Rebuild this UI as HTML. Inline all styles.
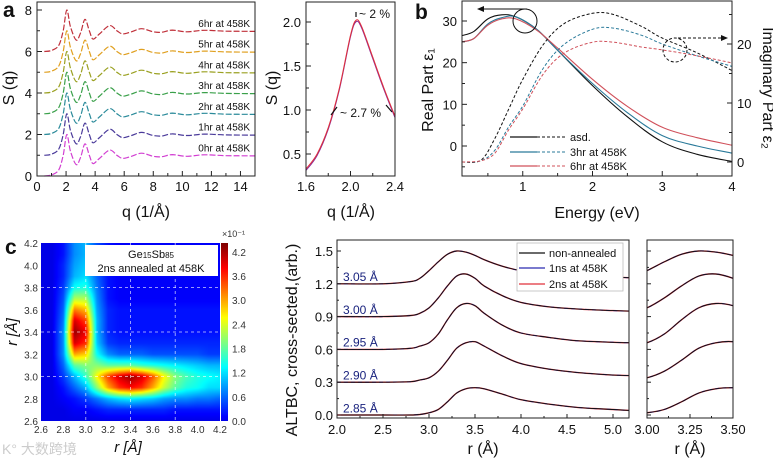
<!DOCTYPE html>
<html><head><meta charset="utf-8">
<style>
html,body{margin:0;padding:0;background:#fff;}
#wrap{position:relative;width:773px;height:459px;overflow:hidden;font-family:"Liberation Sans","Noto Sans CJK SC",sans-serif;}
svg{position:absolute;left:0;top:0;}
canvas{position:absolute;}
</style></head>
<body>
<div id="wrap">
<canvas id="heat" width="179" height="178" style="left:41px;top:243px;"></canvas>
<canvas id="cbar" width="7" height="178" style="left:221px;top:243px;"></canvas>
<svg id="svg" width="773" height="459" xmlns="http://www.w3.org/2000/svg"></svg>
</div>
<script>
// ---------- Panel a data ----------
const sqQ = [0.5,1.0,1.5,1.8,2.05,2.3,2.7,3.0,3.3,3.6,3.85,4.3,5.0,5.5,5.9,6.5,7.2,8.0,8.6,9.3,10.3,11.5,13,15];
const sqShape = [0,0.05,0.3,1.0,2.0,1.2,0.55,0.9,1.55,1.0,0.6,0.85,1.25,1.0,0.85,0.95,1.1,0.95,0.93,1.03,0.95,1.02,0.98,0.97];
const sqOffsets = [0,1,2,3,4,5,6];
const sqLabels = ["0hr at 458K","1hr at 458K","2hr at 458K","3hr at 458K","4hr at 458K","5hr at 458K","6hr at 458K"];
const zoomQ = [1.6,1.7,1.8,1.9,2.0,2.05,2.1,2.2,2.3,2.4];
const zoomS = [0.33,0.5,0.8,1.25,1.85,2.02,1.95,1.6,1.25,0.93];
// ---------- Panel b data ----------
const eE1 = [0.13,0.3,0.5,0.7,0.9,1.2,1.5,2.0,2.5,3.0,3.5,4.0];
const e1Asd = [26.5,27.5,30.5,31.5,31,28,23,14.5,7,1,-2,-3.7];
const e1H3 = [25,25.8,29.3,30.8,31,28,23,15,8,2.5,0,-1.7];
const e1H6 = [25,25.8,29,30.5,30.5,27.8,23.5,16,9.5,4.5,2,0.2];
const eE2 = [0.13,0.4,0.6,0.8,1.0,1.3,1.6,2.0,2.3,2.7,3.0,3.5,4.0];
const e2Asd = [0,0.3,4,9,14,20,23.5,25.2,25,23,21,18.5,15.5];
const e2H3 = [0,0.2,2,6,9.5,16,20,22.5,22.7,21.5,20,18,16.2];
const e2H6 = [0,0.2,1.5,5.5,9,15,18.5,20.3,20.3,19.5,19,18,16.8];
// ---------- Panel c data (rows y=4.2 down to 2.6, cols x=2.6..4.2 step 0.1) ----------
const hmX = [2.6,2.7,2.8,2.9,3.0,3.1,3.2,3.3,3.4,3.5,3.6,3.7,3.8,3.9,4.0,4.1,4.2];
const hmY = [4.2,4.1,4.0,3.9,3.8,3.7,3.6,3.5,3.4,3.3,3.2,3.1,3.0,2.9,2.8,2.7,2.6];
const hmV = [
[0,0,.2,.8,1.0,.5,.2,.1,.1,.1,.1,.1,.1,.1,.1,.1,.1],
[0,0,.2,.8,1.0,.5,.2,.1,.1,.1,.1,.1,.1,.1,.1,.1,.1],
[0,0,.3,.9,1.1,.5,.2,.1,.1,.1,.1,.1,.1,.1,.1,.1,.1],
[0,0,.3,1.0,1.2,.6,.2,.1,.1,.1,.1,.1,.1,.1,.1,.1,.1],
[0,0,.4,1.4,1.5,.7,.2,.1,.1,.1,.1,.1,.1,.1,.1,.1,.1],
[0,0,.5,2.2,2.2,.8,.2,.1,.1,.1,.1,.1,.1,.1,.1,.1,.1],
[0,0,.6,3.2,2.9,.9,.3,.2,.2,.2,.2,.2,.2,.2,.2,.2,.2],
[0,0,.7,4.0,3.5,1.0,.3,.2,.2,.2,.2,.2,.2,.2,.2,.2,.2],
[0,0,.8,4.3,3.9,1.0,.3,.2,.2,.2,.2,.2,.2,.2,.2,.2,.2],
[0,0,.8,4.0,3.6,1.1,.4,.3,.3,.3,.3,.3,.3,.3,.3,.3,.3],
[0,0,.8,3.0,2.8,1.4,.8,.6,.6,.6,.5,.5,.5,.5,.5,.4,.4],
[0,0,.6,1.8,2.0,2.0,1.8,1.8,1.8,1.6,1.5,1.4,1.3,1.2,1.1,1.0,1.0],
[0,0,.4,1.0,1.6,2.6,3.5,4.0,4.3,4.0,3.4,2.6,2.0,1.7,1.5,1.4,1.3],
[0,0,.2,.6,1.0,2.0,3.0,3.6,3.8,3.6,3.0,2.3,1.8,1.5,1.4,1.2,1.2],
[0,0,.1,.2,.4,.7,1.0,1.2,1.3,1.2,1.1,.9,.8,.8,.7,.7,.6],
[0,0,0,.1,.1,.2,.3,.3,.3,.3,.3,.3,.2,.2,.2,.2,.2],
[0,0,0,0,0,0,0,0,0,0,0,0,0,0,0,0,0]];
const cbTicks = [0.0,0.6,1.2,1.8,2.4,3.0,3.6,4.2];
// ---------- Panel d data ----------
const dR = [2.0,2.5,2.8,2.9,3.0,3.1,3.2,3.3,3.4,3.5,3.6,3.8,4.0,4.3,4.6,5.0,5.2];
const d285 = [0,0,0,0.005,0.02,0.05,0.12,0.2,0.24,0.25,0.24,0.19,0.14,0.1,0.07,0.05,0.04];
const d290 = [0,0,0.005,0.02,0.04,0.1,0.2,0.31,0.36,0.37,0.33,0.24,0.17,0.12,0.09,0.065,0.06];
const d295 = [0,0,0.01,0.03,0.06,0.14,0.27,0.38,0.42,0.4,0.33,0.22,0.15,0.11,0.08,0.065,0.06];
const d300 = [0,0,0.01,0.03,0.08,0.17,0.28,0.37,0.39,0.35,0.28,0.19,0.13,0.09,0.07,0.055,0.05];
const d305 = [0,0,0.02,0.05,0.12,0.2,0.27,0.3,0.29,0.26,0.22,0.16,0.12,0.09,0.07,0.06,0.055];
const dBase = [0,0.3,0.6,0.9,1.2];
const dLabels = ["2.85 Å","2.90 Å","2.95 Å","3.00 Å","3.05 Å"];

const NS="http://www.w3.org/2000/svg";
const svg=document.getElementById('svg');
function el(tag,attrs,parent,text){const e=document.createElementNS(NS,tag);for(const k in attrs)e.setAttribute(k,attrs[k]);if(text!==undefined)e.textContent=text;(parent||svg).appendChild(e);return e;}
function lin(d0,d1,r0,r1){return v=>r0+(v-d0)*(r1-r0)/(d1-d0);}
function smooth(pts){let d=`M${pts[0][0].toFixed(1)},${pts[0][1].toFixed(1)}`;for(let i=0;i<pts.length-1;i++){const p0=pts[i-1]||pts[i],p1=pts[i],p2=pts[i+1],p3=pts[i+2]||p2;const c1=[p1[0]+(p2[0]-p0[0])/6,p1[1]+(p2[1]-p0[1])/6],c2=[p2[0]-(p3[0]-p1[0])/6,p2[1]-(p3[1]-p1[1])/6];d+=`C${c1[0].toFixed(1)},${c1[1].toFixed(1)} ${c2[0].toFixed(1)},${c2[1].toFixed(1)} ${p2[0].toFixed(1)},${p2[1].toFixed(1)}`;}return d;}
function txt(x,y,s,size,anchor,parent,extra){const t=el('text',Object.assign({x:x,y:y,'font-size':size,'text-anchor':anchor||'middle',fill:'#111'},extra||{}),parent,s);return t;}
function frame(x0,y0,x1,y1,name){const r=el('rect',{x:x0,y:y0,width:x1-x0,height:y1-y0,fill:'none',stroke:'#222','stroke-width':1});}

// ===== Panel a left =====
const gA=el('g',{});


const xa=lin(0,15,37,255), ya=lin(0,8,176,10);
const colsA=['#d23fd2','#4a3a9a','#2a8a9a','#3aa04a','#9aa020','#e0a020','#c0303a'];
sqOffsets.forEach((k,i)=>{
  const p=el('path',{d:smooth(sqQ.map((q,j)=>[xa(q),ya(sqShape[j]+k)])),fill:'none',stroke:colsA[i],'stroke-width':1.2,'stroke-dasharray':'6,2'},gA);
  
  
  const t=txt(250,ya(k+1)-4,sqLabels[i],10,'end',gA);
  
  
});
frame(37,2,255,176,'panel-a-frame');
for(let q=0;q<=15;q++){el('line',{x1:xa(q),x2:xa(q),y1:176,y2:q%2?173:171,stroke:'#222'},gA);if(q%2===0)txt(xa(q),191,String(q),13,'middle',gA);}
for(let s=0;s<=8;s+=1){el('line',{x1:37,x2:s%2?40:42,y1:ya(s),y2:ya(s),stroke:'#222'},gA);if(s%2===0)txt(32,ya(s)+5,String(s),13,'end',gA);}
txt(146,217,'q (1/Å)',16,'middle',gA);
txt(14,88,'S (q)',16,'middle',gA,{transform:'rotate(-90 14 88)'});
txt(3,17,'a',21,'start',gA,{'font-weight':'bold'});

// ===== Panel a right =====
const xb=lin(1.6,2.4,306,395), yb=lin(0.5,2.0,154,22);
['#8a2a9a','#e0303a'].forEach((c,i)=>{const p=el('path',{d:smooth(zoomQ.map((q,j)=>[xb(q),yb(zoomS[j])+(i?0:1.5)])),fill:'none',stroke:c,'stroke-width':1},gA);});
frame(306,2,395,176,'panel-a-zoom-frame');
[1.6,1.8,2.0,2.2,2.4].forEach((q,i)=>{el('line',{x1:xb(q),x2:xb(q),y1:176,y2:i%2?173:171,stroke:'#222'},gA);if(i%2===0)txt(xb(q),191,q.toFixed(1),13,'middle',gA);});
[0.5,0.75,1.0,1.25,1.5,1.75,2.0].forEach((s,i)=>{el('line',{x1:306,x2:i%2?309:311,y1:yb(s),y2:yb(s),stroke:'#222'},gA);if(i%2===0)txt(301,yb(s)+5,s.toFixed(1),13,'end',gA);});
txt(351,217,'q (1/Å)',16,'middle',gA);
txt(277,88,'S (q)',16,'middle',gA,{transform:'rotate(-90 277 88)'});
txt(359,18,'~ 2 %',12,'start',gA);
txt(340,117,'~ 2.7 %',12,'start',gA);
el('path',{d:'M356,17 L356,12 M331,115 L337,107 M386,105 L392,112',stroke:'#111','stroke-width':1.2,fill:'none'},gA);

// ===== Panel b =====
const gB=el('g',{});


const xe=lin(0,4,453,732), yl=lin(0,30,146,21), yr=lin(0,20,162,44);
const bCols=['#111','#2a7a9a','#d0505a'], bNames=['asd','3hr','6hr'];
[e1Asd,e1H3,e1H6].forEach((s,i)=>{const p=el('path',{d:smooth(eE1.map((e,j)=>[xe(e),yl(s[j])])),fill:'none',stroke:bCols[i],'stroke-width':1.1},gB);});
[e2Asd,e2H3,e2H6].forEach((s,i)=>{const p=el('path',{d:smooth(eE2.map((e,j)=>[xe(e),yr(s[j])])),fill:'none',stroke:bCols[i],'stroke-width':1,'stroke-dasharray':'3,2'},gB);});
frame(462,1,732,176,'panel-b-frame');
for(let e=0.5;e<=4;e+=0.5){el('line',{x1:xe(e),x2:xe(e),y1:176,y2:e%1?173:171,stroke:'#222'},gB);if(e%1===0)txt(xe(e),191,String(e),13,'middle',gB);}
[-5,0,5,10,15,20,25,30].forEach(v=>{el('line',{x1:462,x2:v%10?465:467,y1:yl(v),y2:yl(v),stroke:'#222'},gB);if(v%10===0)txt(457,yl(v)+5,String(v),13,'end',gB);});
[0,5,10,15,20,25].forEach(v=>{el('line',{x1:732,x2:v%10?729:727,y1:yr(v),y2:yr(v),stroke:'#222'},gB);if(v%10===0)txt(737,yr(v)+5,String(v),13,'start',gB);});
txt(597,218,'Energy (eV)',16,'middle',gB);
txt(433,90,'Real Part ε₁',16,'middle',gB,{transform:'rotate(-90 433 90)'});
txt(763,88,'Imaginary Part ε₂',16,'middle',gB,{transform:'rotate(90 763 88)'});
txt(415,19,'b',21,'start',gB,{'font-weight':'bold'});
el('circle',{cx:525,cy:21,r:12,fill:'none',stroke:'#111','stroke-width':1},gB);
el('path',{d:'M527,9 L482,9',stroke:'#111','stroke-width':1},gB);
el('path',{d:'M477,9 L484,6 L484,12 Z',fill:'#111'},gB);
el('circle',{cx:675,cy:50,r:12,fill:'none',stroke:'#111','stroke-width':1,'stroke-dasharray':'3,2'},gB);
el('path',{d:'M678,38 L722,38',stroke:'#111','stroke-width':1,'stroke-dasharray':'3,2'},gB);
el('path',{d:'M728,38 L721,35 L721,41 Z',fill:'#111'},gB);
const legB=['asd.','3hr at 458K','6hr at 458K'];
legB.forEach((s,i)=>{const y=[137,152,166][i];const g=el('g',{},gB);
el('line',{x1:510,x2:537,y1:y,y2:y,stroke:bCols[i],'stroke-width':1.2},g);el('line',{x1:537,x2:566,y1:y,y2:y,stroke:bCols[i],'stroke-width':1,'stroke-dasharray':'3,2'},g);txt(570,y+4,s,11,'start',g);});

// ===== Panel c =====
function jet(t){t=Math.max(0,Math.min(1,t));const c=v=>Math.round(255*Math.max(0,Math.min(1,v)));return [c(1.5-Math.abs(4*t-3)),c(1.5-Math.abs(4*t-2)),c(1.5-Math.abs(4*t-1))];}
const VMAX=4.42;
(function(){const cv=document.getElementById('heat'),ctx=cv.getContext('2d'),W=cv.width,H=cv.height,img=ctx.createImageData(W,H);
const x0=hmX[0],dx=hmX[1]-hmX[0],y0=hmY[0],dy=hmY[0]-hmY[1];
for(let py=0;py<H;py++){const yv=4.2-(py+0.5)/H*1.6;let fy=(y0-yv)/dy;let iy=Math.min(Math.floor(fy),hmY.length-2);let ty=fy-iy;
for(let px=0;px<W;px++){const xv=2.6+(px+0.5)/W*1.6;let fx=(xv-x0)/dx;let ix=Math.min(Math.floor(fx),hmX.length-2);let tx=fx-ix;
const v=(hmV[iy][ix]*(1-tx)+hmV[iy][ix+1]*tx)*(1-ty)+(hmV[iy+1][ix]*(1-tx)+hmV[iy+1][ix+1]*tx)*ty;
const c=jet(0.1+0.9*v/VMAX);const k=(py*W+px)*4;img.data[k]=c[0];img.data[k+1]=c[1];img.data[k+2]=c[2];img.data[k+3]=255;}}
ctx.putImageData(img,0,0);
const cb=document.getElementById('cbar'),c2=cb.getContext('2d');for(let py=0;py<cb.height;py++){const v=(1-py/cb.height)*VMAX;const c=jet(0.1+0.9*v/VMAX);c2.fillStyle=`rgb(${c})`;c2.fillRect(0,py,7,1);}})();
const gC=el('g',{});


const xc=lin(2.6,4.2,41,220), yc=lin(2.6,4.2,421,243);
[3.0,3.4,3.8].forEach(v=>{el('line',{x1:xc(v),x2:xc(v),y1:243,y2:421,stroke:'#fff','stroke-opacity':0.6,'stroke-dasharray':'3,3'},gC);el('line',{x1:41,x2:220,y1:yc(v),y2:yc(v),stroke:'#fff','stroke-opacity':0.6,'stroke-dasharray':'3,3'},gC);});
const box=el('rect',{x:85,y:245,width:133,height:31,fill:'#fff'},gC);


const t1=el('text',{x:151,y:258,'font-size':11,'text-anchor':'middle',fill:'#111'},gC);
t1.innerHTML='Ge<tspan font-size="8">15</tspan>Sb<tspan font-size="8">85</tspan>';
txt(151,272,'2ns annealed at 458K',11,'middle',gC);
for(let v=2.6;v<=4.21;v+=0.2){txt(xc(v),433,v.toFixed(1),10,'middle',gC,{fill:'#333'});txt(38,yc(v)+4,v.toFixed(1),10,'end',gC,{fill:'#333'});}
cbTicks.forEach(v=>{const y=421-v/VMAX*178;txt(232,y+4,v.toFixed(1),10,'start',gC,{fill:'#333'});});
txt(222,237,'×10⁻¹',9,'start',gC,{fill:'#333'});
txt(128,452,'r [Å]',15,'middle',gC,{'font-style':'italic'});
txt(17,332,'r [Å]',15,'middle',gC,{'font-style':'italic',transform:'rotate(-90 17 332)'});
txt(5,254,'c',21,'start',gC,{'font-weight':'bold'});
txt(2,454,'K° 大数跨境',14,'start',gC,{fill:'#ccc'});

// ===== Panel d =====
const gD=el('g',{});


const xd=lin(2.0,5.0,337,613), yd=lin(0,1.5,415,251), xs=lin(3.0,3.5,647,733);
el('clipPath',{id:'clipL'},gD).appendChild(Object.assign(document.createElementNS(NS,'rect'),{}));
document.querySelector('#clipL rect').setAttribute('x',337);document.querySelector('#clipL rect').setAttribute('y',238);document.querySelector('#clipL rect').setAttribute('width',292);document.querySelector('#clipL rect').setAttribute('height',182);
el('clipPath',{id:'clipR'},gD).appendChild(document.createElementNS(NS,'rect'));
document.querySelector('#clipR rect').setAttribute('x',647);document.querySelector('#clipR rect').setAttribute('y',238);document.querySelector('#clipR rect').setAttribute('width',86);document.querySelector('#clipR rect').setAttribute('height',182);
const dSeries=[d285,d290,d295,d300,d305];
const dStyles=[{stroke:'#e0303a',w:1.4,da:''},{stroke:'#2a2ab0',w:1,da:'4,3'},{stroke:'#111',w:0.9,da:''}];
dSeries.forEach((s,i)=>{
  dStyles.forEach((st,k)=>{
    const p=el('path',{d:smooth(dR.map((r,j)=>[xd(r),yd(s[j]+dBase[i])])),fill:'none',stroke:st.stroke,'stroke-width':st.w,'stroke-dasharray':st.da,'clip-path':'url(#clipL)'},gD);
    
    
    const q=el('path',{d:smooth(dR.map((r,j)=>[xs(r),yd(s[j]+dBase[i])])),fill:'none',stroke:st.stroke,'stroke-width':st.w,'stroke-dasharray':st.da,'clip-path':'url(#clipR)'},gD);
    
    
  });
  const t=txt(343,yd(dBase[i]+0.07)+5,dLabels[i],12,'start',gD,{fill:'#1a237e'});
  
  
});
frame(337,240,629,418,'panel-d-frame');
frame(647,240,733,418,'panel-d-zoom-frame');
for(let r=2.0;r<=5.01;r+=0.25){const major=Math.abs(r*2-Math.round(r*2))<1e-6;el('line',{x1:xd(r),x2:xd(r),y1:418,y2:major?414:416,stroke:'#222'},gD);if(major)txt(xd(r),434,r.toFixed(1),13,'middle',gD);}
[3.0,3.125,3.25,3.375,3.5].forEach((r,i)=>{el('line',{x1:xs(r),x2:xs(r),y1:418,y2:i%2?416:414,stroke:'#222'},gD);if(i%2===0)txt(xs(r),434,r.toFixed(2),13,'middle',gD);});
for(let v=0;v<=1.51;v+=0.15){const major=Math.round(v*100)%30===0;el('line',{x1:337,x2:major?341:339,y1:yd(v),y2:yd(v),stroke:'#222'},gD);el('line',{x1:647,x2:major?651:649,y1:yd(v),y2:yd(v),stroke:'#222'},gD);if(major)txt(333,yd(v)+5,v.toFixed(1),13,'end',gD);}
txt(483,454,'r (Å)',16,'middle',gD);
txt(690,454,'r (Å)',16,'middle',gD);
txt(297,340,'ALTBC, cross-sected,(arb.)',16,'middle',gD,{transform:'rotate(-90 297 340)'});
const lg=el('g',{},gD);


el('rect',{x:517,y:243,width:106,height:48,fill:'#fff',stroke:'#bbb','stroke-width':0.8},lg);
[['non-annealed','#111'],['1ns at 458K','#2a2ab0'],['2ns at 458K','#e0303a']].forEach((e,i)=>{const y=[253,268,284][i];el('line',{x1:519,x2:545,y1:y,y2:y,stroke:e[1],'stroke-width':1.2},lg);txt(549,y+4,e[0],11,'start',lg);});
</script>
</body></html>
